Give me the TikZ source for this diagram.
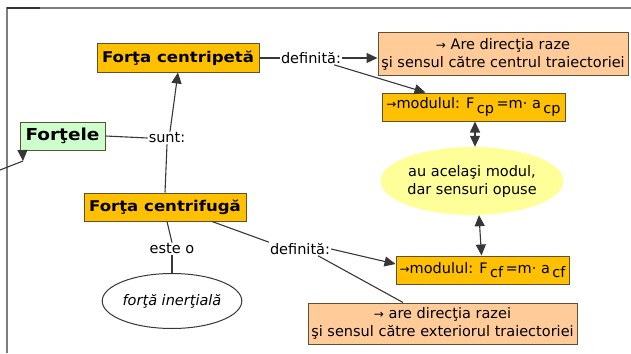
\documentclass[tikz,border=0pt]{standalone}
\usepackage{fontspec}
\setmainfont{DejaVu Sans}
\newfontfamily\titlefont[FakeStretch=1.12]{DejaVu Sans}
\usetikzlibrary{arrows.meta,shapes.geometric}

\definecolor{conceptorange}{RGB}{255,192,0}
\definecolor{conceptpeach}{RGB}{255,204,153}
\definecolor{conceptgreen}{RGB}{204,255,204}
\definecolor{conceptyellow}{RGB}{255,255,153}
\definecolor{edgegray}{RGB}{55,55,55}
\definecolor{framegray}{RGB}{125,125,125}
\definecolor{boxborder}{RGB}{95,80,50}

\newcommand{\lowsub}[1]{\raisebox{-4.5pt}{#1}}
\newcommand{\smallarrow}{{\fontsize{12}{12}\selectfont →}}

\begin{document}
\begin{tikzpicture}[x=1pt,y=-1pt,
  every node/.style={font=\fontsize{14.5}{18}\selectfont, inner sep=1pt},
  title/.style={font=\titlefont\bfseries\fontsize{14.8}{18}\selectfont},
  orangebox/.style={draw=boxborder, line width=1pt, fill=conceptorange,
    inner sep=0pt, align=center},
  peachbox/.style={draw=boxborder, line width=1pt, fill=conceptpeach,
    inner sep=0pt, align=center},
  greenbox/.style={draw=boxborder, line width=1pt, fill=conceptgreen,
    inner sep=0pt, align=center},
  link/.style={edgegray, line width=1.1pt},
  arrowlink/.style={link, -{Triangle[length=11pt,width=10pt]}},
  bothlink/.style={link, {Triangle[length=11pt,width=10pt]}-{Triangle[length=11pt,width=10pt]}},
  label/.style={fill=white, inner sep=1pt}]

\useasboundingbox (0,0) rectangle (631,353);

% frame of the page
\draw[framegray, line width=2pt] (7,353) -- (7,8) -- (631,8);
\draw[black!80, line width=2pt] (7,8) -- (40,8);

% concepts
\node[orangebox, title, minimum width=162pt, minimum height=28pt] (cp) at (178,58) {Forţa centripetă};
\node[orangebox, title, minimum width=162pt, minimum height=28pt] (cf) at (165,207) {Forţa centrifugă};
\node[greenbox, font=\titlefont\bfseries\fontsize{16.5}{19}\selectfont,
      minimum width=85pt, minimum height=28pt] (fo) at (62.5,136) {Forţele};

\node[peachbox, minimum width=250pt, minimum height=42pt] (pe1) at (503,54)
  {\smallarrow\ Are direcţia raze\\şi sensul către centrul traiectoriei};
\node[peachbox, minimum width=269pt, minimum height=41pt] (pe2) at (442.5,323.5)
  {\smallarrow\ are direcţia razei\\şi sensul către exteriorul traiectoriei};

\node[orangebox, minimum width=183pt, minimum height=28pt] (mcp) at (473.5,107)
  {\smallarrow modulul: F\,\lowsub{cp}\,=m· a\,\lowsub{cp}};
\node[orangebox, minimum width=173pt, minimum height=28pt] (mcf) at (482.5,270)
  {\smallarrow modulul: F\,\lowsub{cf}\,=m· a\,\lowsub{cf}};

\node[ellipse, fill=conceptyellow, minimum width=145pt, minimum height=68pt,
      align=center, inner sep=0pt] (same) at (472,181)
  {au acelaşi modul,\\dar sensuri opuse};

\node[ellipse, draw=edgegray, line width=1pt, fill=white, minimum width=124pt,
      minimum height=55pt, inner sep=0pt] (inert) at (172,301)
  {\itshape forţă inerţială};

% linking phrases
\node[label] (def1) at (311,58) {definită:};
\node[label] (sunt) at (167,138) {sunt:};
\node[label] (este) at (172,249) {este o};
\node[label] (def2) at (300,249) {definită:};

% connectors
\draw[link] (cp.east) -- (def1.west);
\draw[arrowlink] (def1.east) -- (def1.east -| pe1.west);
\draw[arrowlink] ([xshift=-8pt]def1.south east) -- ([xshift=44pt]mcp.north west);
\draw[bothlink] ([xshift=1.5pt]mcp.south) -- ([xshift=3pt]same.north);
\draw[bothlink] ([xshift=7pt]same.south) -- ([xshift=-1pt]mcf.north);

\draw[link] (fo.east) -- (sunt.west);
\draw[arrowlink] ([xshift=3pt]sunt.north) -- (cp.south);
\draw[link] (sunt.south) -- (cf.north);

\draw[link] ([xshift=2pt]cf.south) -- (este.north);
\draw[link] (este.south) -- (inert.north);

\draw[link] ([xshift=47pt]cf.south) -- (def2.north west);
\draw[arrowlink] (def2.east) -- ([yshift=6pt]mcf.west);
\draw[link] ([xshift=-13pt]def2.south east) -- ([xshift=-39.5pt]pe2.north);

% connector leaving the frame on the left
\coordinate (ext) at (0,170);
\coordinate (foot) at (23,161);
\draw[link] (ext) -- (foot);
\draw[arrowlink] ([xshift=3pt]fo.south west) -- (foot);

\end{tikzpicture}
\end{document}
